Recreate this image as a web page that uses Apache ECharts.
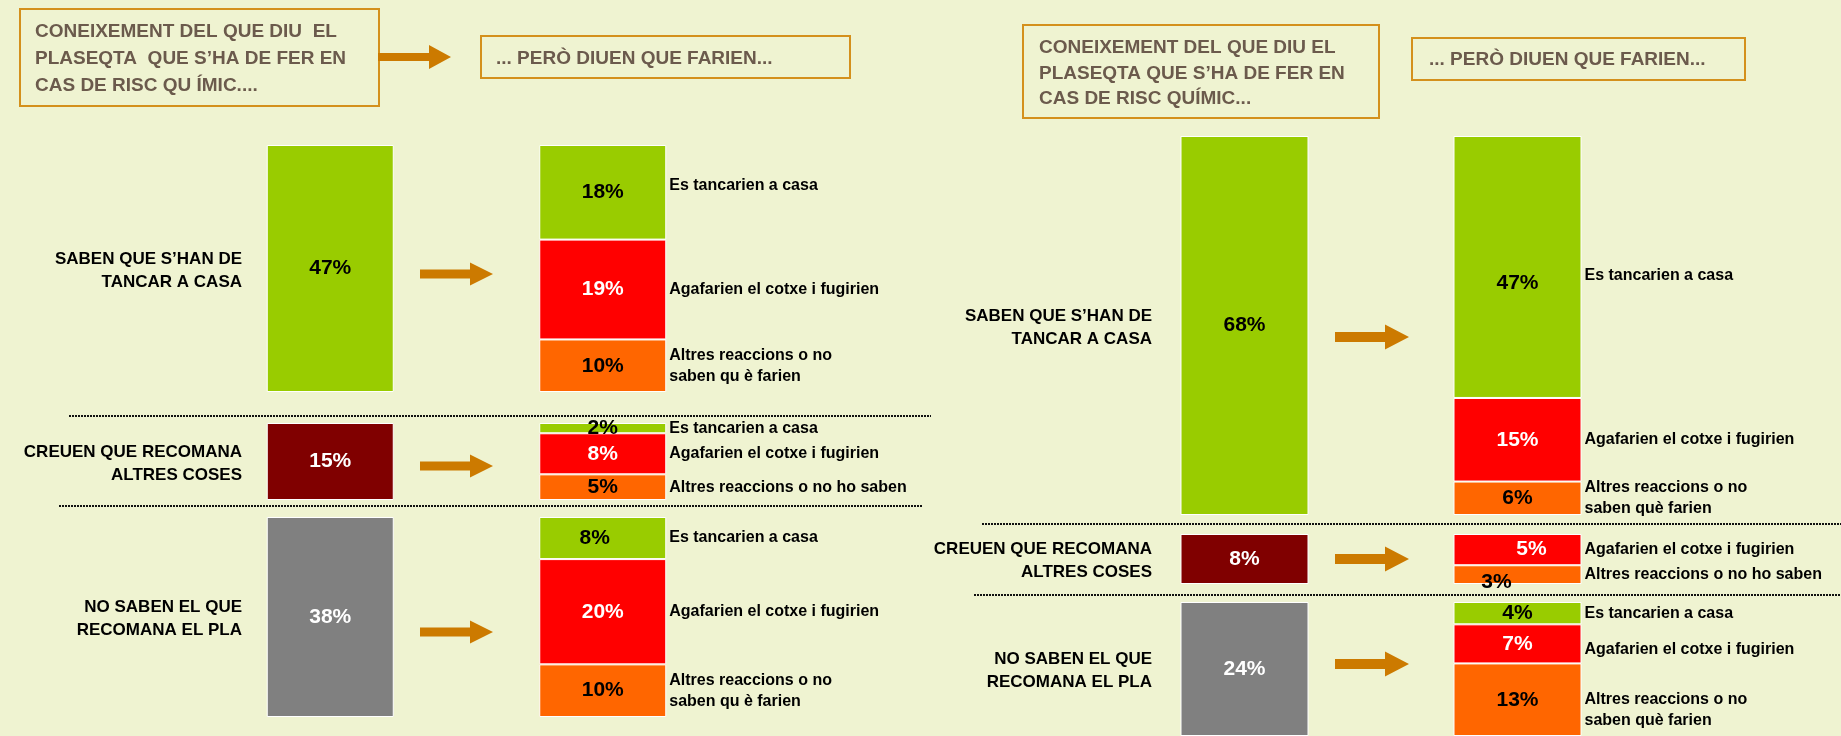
<!DOCTYPE html>
<html>
<head>
<meta charset="utf-8">
<title>Coneixement del pla de risc químic</title>
<script src="https://cdn.jsdelivr.net/npm/echarts@6/dist/echarts.min.js"></script>
<style>
html, body { margin: 0; padding: 0; background: #eff3d1; }
#main { width: 1841px; height: 736px; }
</style>
</head>
<body>
<div id="main"></div>
<script>
// textos de capçalera
var HEADER_LEFT = ['CONEIXEMENT DEL QUE DIU  EL', 'PLASEQTA  QUE S\u2019HA DE FER EN', 'CAS DE RISC QU \u00cdMIC....'];
var HEADER_RIGHT = ['CONEIXEMENT DEL QUE DIU EL', 'PLASEQTA QUE S\u2019HA DE FER EN', 'CAS DE RISC QU\u00cdMIC...'];
var HEADER_ACTION = '... PER\u00d2 DIUEN QUE FARIEN...';

// grups (coneixement) i reaccions
var GROUPS = ['SABEN QUE S\u2019HAN DE\nTANCAR A CASA', 'CREUEN QUE RECOMANA\nALTRES COSES', 'NO SABEN EL QUE\nRECOMANA EL PLA'];
var REACTIONS_LEFT = [
    ['Es tancarien a casa', 'Agafarien el cotxe i fugirien', 'Altres reaccions o no\nsaben qu \u00e8 farien'],
    ['Es tancarien a casa', 'Agafarien el cotxe i fugirien', 'Altres reaccions o no ho saben'],
    ['Es tancarien a casa', 'Agafarien el cotxe i fugirien', 'Altres reaccions o no\nsaben qu \u00e8 farien']
];
var REACTIONS_RIGHT = [
    ['Es tancarien a casa', 'Agafarien el cotxe i fugirien', 'Altres reaccions o no\nsaben qu\u00e8 farien'],
    ['Es tancarien a casa', 'Agafarien el cotxe i fugirien', 'Altres reaccions o no ho saben'],
    ['Es tancarien a casa', 'Agafarien el cotxe i fugirien', 'Altres reaccions o no\nsaben qu\u00e8 farien']
];

// valors (%)
var TOTAL_LEFT = [47, 15, 38];
var SPLIT_LEFT = [[18, 19, 10], [2, 8, 5], [8, 20, 10]];
var TOTAL_RIGHT = [68, 8, 24];
var SPLIT_RIGHT = [[47, 15, 6], [null, 5, 3], [4, 7, 13]];

// colors
var GROUP_COLORS = ['#99cc00', '#800000', '#808080'];
var GROUP_TEXT = ['#000000', '#ffffff', '#ffffff'];
var REACT_COLORS = ['#99cc00', '#ff0000', '#ff6600'];
var REACT_TEXT = ['#000000', '#ffffff', '#000000'];
var ARROW_COLOR = '#cc7a00';
var BOX_COLOR = '#d4901c';
var HEAD_COLOR = '#6b5a4c';
var FONT = '"Liberation Sans", Arial, sans-serif';

// posicions
var PANELS = [
    {
        totals: TOTAL_LEFT, split: SPLIT_LEFT, reactions: REACTIONS_LEFT,
        left: 194, width: 545, barW: 127, labelRight: 242,
        groups: [{ top: 145, h: 247, arrowY: 274 }, { top: 423, h: 77, arrowY: 466 }, { top: 517, h: 200, arrowY: 632 }],
        arrowX: [420, 470, 493], shaft: 9, head: 23,
        nudge: { '2-0': [-8, 0] },
        nameNudge: { '0-0': [0, -7] }
    },
    {
        totals: TOTAL_RIGHT, split: SPLIT_RIGHT, reactions: REACTIONS_RIGHT,
        left: 1108, width: 546, barW: 128, labelRight: 1152,
        groups: [{ top: 136, h: 379, arrowY: 337 }, { top: 534, h: 50, arrowY: 559 }, { top: 602, h: 134, arrowY: 664 }],
        arrowX: [1335, 1385, 1409], shaft: 10, head: 25,
        nudge: { '0-0': [0, 16], '1-1': [14, 0], '1-2': [-21, 8] },
        nameNudge: { '0-0': [0, 9], '2-1': [0, 6], '2-2': [0, 10] }
    }
];

var chart = echarts.init(document.getElementById('main'));

var grids = [], xAxes = [], yAxes = [], series = [], graphics = [];

function arrow(x0, xh, x1, y, sh, hh) {
    return {
        type: 'polygon', silent: true,
        shape: { points: [[x0, y - sh / 2], [xh, y - sh / 2], [xh, y - hh / 2], [x1, y], [xh, y + hh / 2], [xh, y + sh / 2], [x0, y + sh / 2]] },
        style: { fill: ARROW_COLOR }
    };
}

function valueLabel(color, offset) {
    return {
        show: true, position: 'inside', color: color, offset: offset || [0, 0],
        fontFamily: FONT, fontWeight: 'bold', fontSize: 21,
        formatter: function (p) { return p.value + '%'; }
    };
}

PANELS.forEach(function (panel, pi) {
    panel.groups.forEach(function (g, gi) {
        var idx = grids.length;
        grids.push({ left: panel.left, top: g.top, width: panel.width, height: g.h, containLabel: false });
        xAxes.push({ gridIndex: idx, type: 'category', data: ['total', 'reaccio'], show: false });
        yAxes.push({ gridIndex: idx, type: 'value', inverse: true, min: 0, max: panel.totals[gi], show: false });

        // barra del grup
        series.push({
            type: 'bar', xAxisIndex: idx, yAxisIndex: idx, barWidth: panel.barW, barGap: '-100%',
            data: [panel.totals[gi], '-'],
            itemStyle: { color: GROUP_COLORS[gi], borderColor: '#ffffff', borderWidth: 1 },
            label: valueLabel(GROUP_TEXT[gi]),
            silent: true
        });

        // reaccions apilades
        panel.split[gi].forEach(function (v, k) {
            if (v == null) return;
            var key = gi + '-' + k;
            series.push({
                type: 'bar', xAxisIndex: idx, yAxisIndex: idx, barWidth: panel.barW, barGap: '-100%',
                stack: 'seg' + idx,
                data: ['-', v],
                itemStyle: { color: REACT_COLORS[k], borderColor: '#ffffff', borderWidth: 1 },
                label: valueLabel(REACT_TEXT[k], panel.nudge[key]),
                silent: true
            });
            // nom de la reacció a la dreta
            series.push({
                type: 'bar', xAxisIndex: idx, yAxisIndex: idx, barWidth: panel.barW, barGap: '-100%',
                stack: 'lab' + idx,
                data: ['-', v],
                itemStyle: { color: 'rgba(0,0,0,0)' },
                label: {
                    show: true, position: 'right', distance: 3, align: 'left',
                    offset: (panel.nameNudge && panel.nameNudge[key]) || [0, 0],
                    color: '#000000', fontFamily: FONT, fontWeight: 'bold', fontSize: 16, lineHeight: 21,
                    formatter: panel.reactions[gi][k]
                },
                silent: true, z: 3
            });
        });

        // etiqueta del grup
        graphics.push({
            type: 'text', silent: true,
            x: panel.labelRight, y: g.top + g.h / 2 + 2,
            style: {
                text: GROUPS[gi], align: 'right', verticalAlign: 'middle',
                font: 'bold 17px ' + FONT, fill: '#000000', lineHeight: 23
            }
        });

        graphics.push(arrow(panel.arrowX[0], panel.arrowX[1], panel.arrowX[2], g.arrowY, panel.shaft, panel.head));
    });
});

// línies de punts
[[69, 931, 416], [59, 922, 506], [982, 1841, 524], [974, 1841, 595]].forEach(function (l) {
    graphics.push({
        type: 'line', silent: true,
        shape: { x1: l[0], y1: l[2], x2: l[1], y2: l[2] },
        style: { stroke: '#111111', lineWidth: 2, lineDash: [2, 1] }
    });
});

// capçaleres
function box(x, y, w, h) {
    return { type: 'rect', silent: true, shape: { x: x, y: y, width: w, height: h }, style: { fill: 'none', stroke: BOX_COLOR, lineWidth: 2 } };
}
function headText(x, y, txt) {
    return { type: 'text', silent: true, x: x, y: y, style: { text: txt, verticalAlign: 'middle', font: 'bold 19px ' + FONT, fill: HEAD_COLOR } };
}
graphics.push(box(20, 9, 359, 97));
HEADER_LEFT.forEach(function (t, i) { graphics.push(headText(35, 32 + i * 27, t)); });
graphics.push(arrow(378, 429, 451, 57, 8, 24));
graphics.push(box(481, 36, 369, 42));
graphics.push(headText(496, 59, HEADER_ACTION));

graphics.push(box(1023, 25, 356, 93));
HEADER_RIGHT.forEach(function (t, i) { graphics.push(headText(1039, 48 + i * 25.5, t)); });
graphics.push(box(1412, 38, 333, 42));
graphics.push(headText(1429, 60, HEADER_ACTION));

chart.setOption({
    backgroundColor: '#eff3d1',
    animation: false,
    grid: grids,
    xAxis: xAxes,
    yAxis: yAxes,
    series: series,
    graphic: graphics
});
</script>
</body>
</html>
